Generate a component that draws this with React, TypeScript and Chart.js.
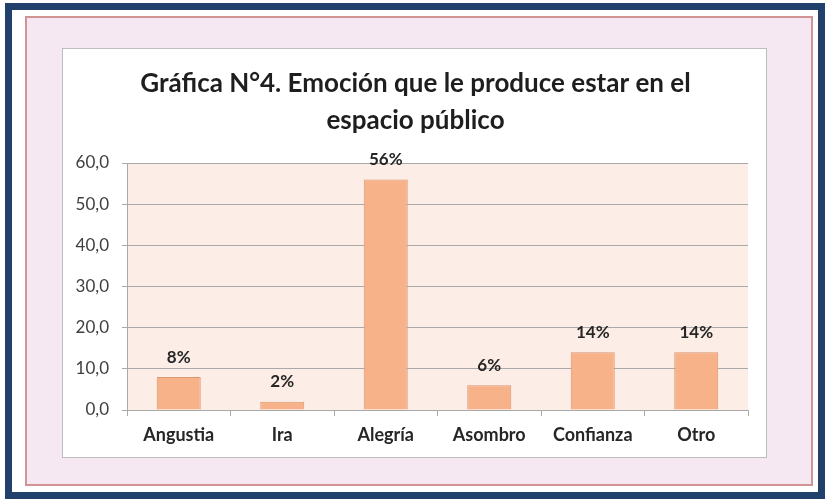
import React, { useEffect, useRef } from "react";
import { Chart, registerables } from "chart.js";

Chart.register(...registerables);

const categories = ["Angustia", "Ira", "Alegría", "Asombro", "Confianza", "Otro"];
const values = [8, 2, 56, 6, 14, 14];
const valueLabels = ["8%", "2%", "56%", "6%", "14%", "14%"];
const yTickValues = [0, 10, 20, 30, 40, 50, 60];
const yTickLabels = ["0,0", "10,0", "20,0", "30,0", "40,0", "50,0", "60,0"];
const titleLines = ["Gráfica N°4. Emoción que le produce estar en el", "espacio público"];

const FONT = "Lato, 'Open Sans', sans-serif";

const plotBg = {
  id: "plotBg",
  beforeDraw(chart: any) {
    const { ctx, chartArea } = chart;
    if (!chartArea) return;
    ctx.save();
    ctx.fillStyle = "#FCEDE6";
    ctx.fillRect(chartArea.left, chartArea.top, chartArea.right - chartArea.left, chartArea.bottom - chartArea.top);
    ctx.restore();
  },
};

const titlePlugin = {
  id: "centeredTitle",
  afterDraw(chart: any) {
    const { ctx, width } = chart;
    ctx.save();
    ctx.font = `bold 26px ${FONT}`;
    ctx.fillStyle = "#1E1E1E";
    ctx.textAlign = "center";
    ctx.textBaseline = "middle";
    titleLines.forEach((line, i) => {
      ctx.fillText(line, width / 2 + 1, 35 + i * 37);
    });
    ctx.restore();
  },
};

const valueLabelPlugin = {
  id: "valueLabels",
  afterDatasetsDraw(chart: any) {
    const { ctx } = chart;
    const meta = chart.getDatasetMeta(0);
    ctx.save();
    ctx.font = `bold 17px ${FONT}`;
    ctx.fillStyle = "#262626";
    ctx.textAlign = "center";
    ctx.textBaseline = "middle";
    meta.data.forEach((el: any, i: number) => {
      ctx.fillText(valueLabels[i], el.x, el.y - 20);
    });
    ctx.restore();
  },
};

function ChartBox() {
  const ref = useRef<HTMLCanvasElement>(null);
  useEffect(() => {
    if (!ref.current) return;
    const chart = new Chart(ref.current, {
      type: "bar",
      data: {
        labels: categories,
        datasets: [
          {
            data: values,
            backgroundColor: "#F8B28A",
            borderColor: "#DC9670",
            borderWidth: 1,
            categoryPercentage: 1,
            barPercentage: 0.425,
          },
        ],
      },
      options: {
        responsive: false,
        animation: false,
        devicePixelRatio: 1,
        layout: { padding: { top: 114, left: 0, right: 18, bottom: 0 } },
        plugins: {
          legend: { display: false },
          tooltip: { enabled: false },
          title: { display: false },
        },
        scales: {
          x: {
            offset: true,
            grid: {
              offset: true,
              drawOnChartArea: false,
              drawTicks: true,
              tickLength: 6,
              color: "#A9A9A9",
            },
            border: { display: true, color: "#A9A9A9" },
            ticks: {
              color: "#262626",
              padding: 8,
              font: { family: FONT, size: 18, weight: "bold" },
            },
            afterFit(scale: any) {
              scale.height = 47;
            },
          },
          y: {
            min: 0,
            max: 60,
            afterBuildTicks(scale: any) {
              scale.ticks = yTickValues.map((v) => ({ value: v }));
            },
            grid: {
              color: "#A9A9A9",
              drawTicks: true,
              tickLength: 5,
            },
            border: { display: true, color: "#A9A9A9" },
            ticks: {
              color: "#404040",
              padding: 13,
              font: { family: FONT, size: 17 },
              callback: (_v: any, i: number) => yTickLabels[i],
            },
            afterFit(scale: any) {
              scale.width = 64;
            },
          },
        },
      },
      plugins: [plotBg, valueLabelPlugin, titlePlugin],
    });
    return () => chart.destroy();
  }, []);
  return <canvas ref={ref} width={703} height={408} style={{ display: "block" }} />;
}

export default function App() {
  return (
    <div style={{ position: "fixed", left: 0, top: 0, width: 825, height: 499, background: "#FFFFFF", overflow: "hidden" }}>
      <div
        style={{
          position: "absolute",
          left: 5,
          top: 3,
          width: 820,
          height: 496,
          boxSizing: "border-box",
          border: "7px solid #22406C",
        }}
      />
      <div
        style={{
          position: "absolute",
          left: 25,
          top: 16,
          width: 788,
          height: 470,
          boxSizing: "border-box",
          border: "2px solid #D09494",
          background: "#F5E8F2",
        }}
      />
      <div
        style={{
          position: "absolute",
          left: 62,
          top: 48,
          width: 705,
          height: 410,
          boxSizing: "border-box",
          border: "1px solid #BDBDBD",
          background: "#FFFFFF",
        }}
      >
        <ChartBox />
      </div>
    </div>
  );
}
